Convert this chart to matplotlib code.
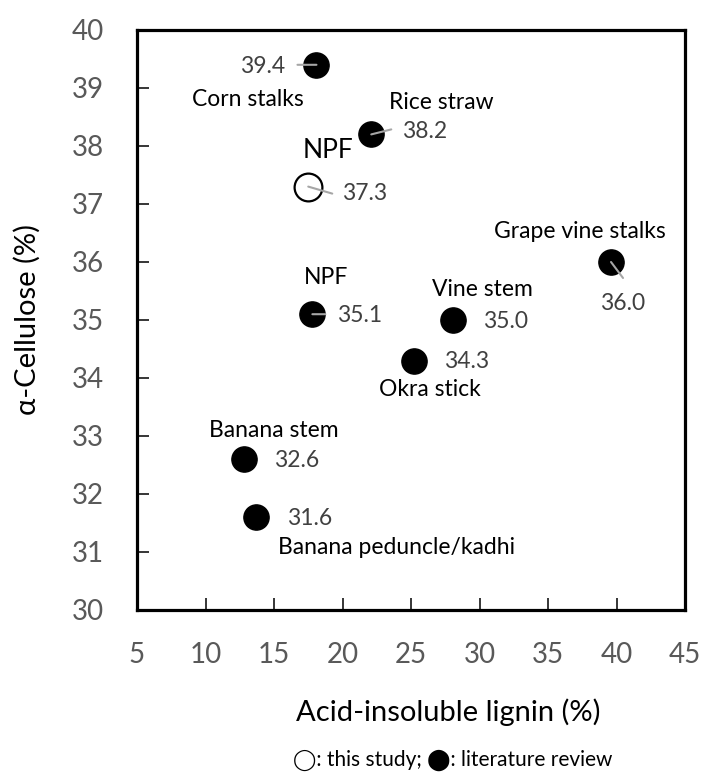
import matplotlib
matplotlib.use("Agg")
import matplotlib.pyplot as plt

plt.rcParams['font.family'] = ['Lato', 'DejaVu Sans']

# --- Data ---
names = ["Corn stalks", "Rice straw", "NPF", "Grape vine stalks", "Vine stem",
         "Okra stick", "NPF", "Banana stem", "Banana peduncle/kadhi"]
lignin = [18.1, 22.1, 17.5, 39.6, 28.1, 25.2, 17.8, 12.8, 13.7]
cellulose = [39.4, 38.2, 37.3, 36.0, 35.0, 34.3, 35.1, 32.6, 31.6]
this_study = [False, False, True, False, False, False, False, False, False]

xticks = [5, 10, 15, 20, 25, 30, 35, 40, 45]
yticks = [30, 31, 32, 33, 34, 35, 36, 37, 38, 39, 40]

# label offsets in screen pixels (down is positive):
# (name dx, name dy, value dx, value dy, leader end or None)
offsets = [
    (-69, 35, -54, 2, (-19, 0)),
    (70, -32, 53, -3, (20, -5)),
    (20, -36, 56, 7, (24, 7)),
    (-31, -30, 12, 42, (12, 16)),
    (29, -30, 52, 1, None),
    (16, 29, 53, 1, None),
    (14, -37, 47, 1, (13, 0)),
    (30, -29, 53, 1, None),
    (22, 30, 53, 1, None),
]

fig = plt.figure(figsize=(7.04, 7.74), dpi=100)
ax = fig.add_axes([137 / 704, 1 - 610 / 774, 548 / 704, 580 / 774])

for x, y, own in zip(lignin, cellulose, this_study):
    if own:
        ax.scatter(x, y, s=400, facecolor="white", edgecolor="black", linewidth=1.6, zorder=3)
    else:
        ax.scatter(x, y, s=330, color="black", zorder=3)

for name, x, y, own, off in zip(names, lignin, cellulose, this_study, offsets):
    ndx, ndy, vdx, vdy, lead = off
    if name == "Banana peduncle/kadhi":
        ax.annotate(name, (x, y), xytext=(ndx, -ndy), textcoords="offset pixels",
                    ha="left", va="center", fontsize=16.5, color="black")
    else:
        ax.annotate(name, (x, y), xytext=(ndx, -ndy), textcoords="offset pixels",
                    ha="center", va="center", fontsize=19 if own else 16.5, color="black")
    ax.annotate(f"{y:.1f}", (x, y), xytext=(vdx, -vdy), textcoords="offset pixels",
                ha="center", va="center", fontsize=16.5, color="#404040")
    if lead is not None:
        ax.annotate("", (x, y), xytext=(lead[0], -lead[1]), textcoords="offset pixels",
                    arrowprops=dict(arrowstyle="-", color="#a6a6a6", lw=1.5,
                                    shrinkA=0, shrinkB=0), zorder=4)

ax.set_xlim(5, 45)
ax.set_ylim(30, 40)
ax.set_xticks(xticks)
ax.set_yticks(yticks)
ax.tick_params(direction="in", length=8.6, width=1.1, labelsize=20,
               labelcolor="#595959", color="black")
ax.tick_params(axis="y", pad=24)
ax.tick_params(axis="x", pad=23)
for sp in ax.spines.values():
    sp.set_linewidth(2.3)

fig.text(448 / 704, 1 - 712 / 774, "Acid-insoluble lignin (%)", ha="center", va="center",
         fontsize=21, color="black")
fig.text(27 / 704, 1 - 320 / 774, "α-Cellulose (%)", ha="center", va="center",
         rotation=90, fontsize=21, color="black")
fig.text(453 / 704, 1 - 760 / 774, "◯: this study; ⬤: literature review", ha="center",
         va="center", fontsize=15, color="black")

fig.savefig("out.png", dpi=100)
